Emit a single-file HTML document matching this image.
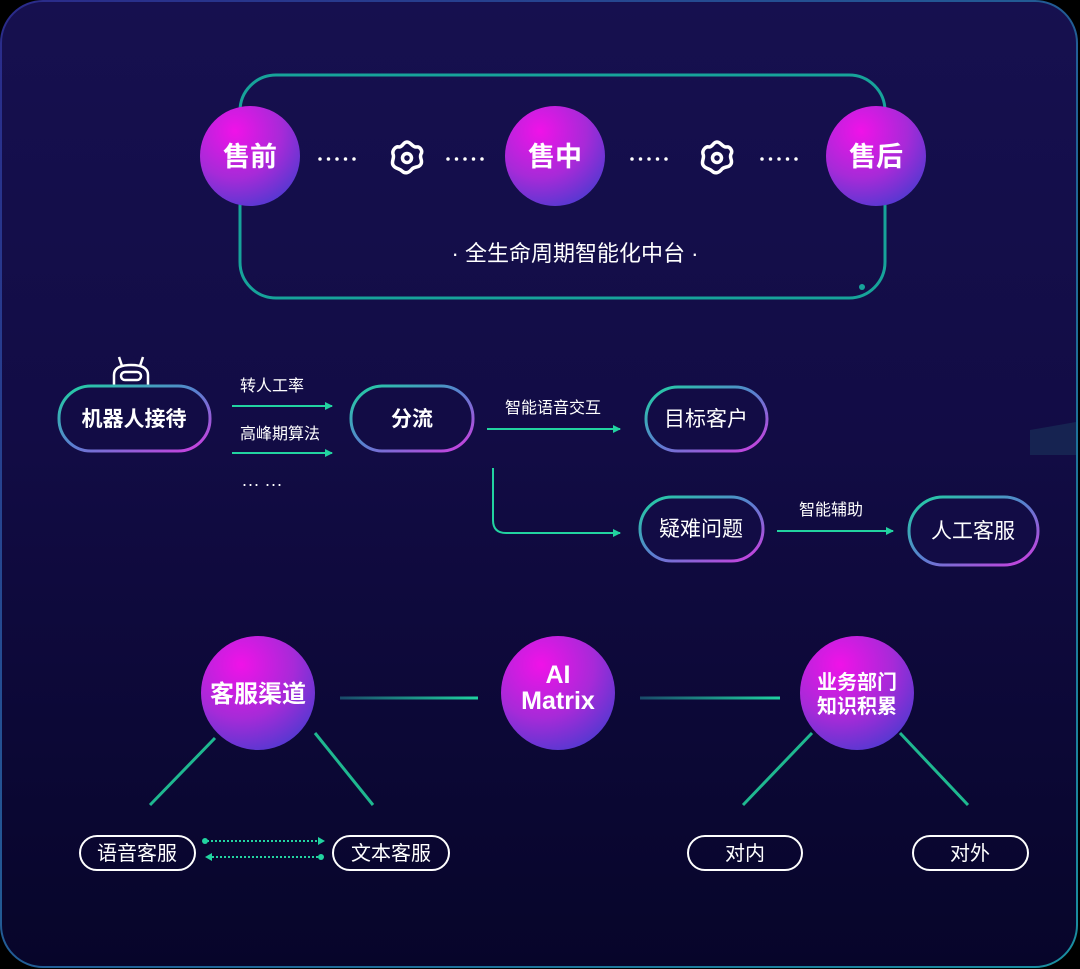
<!DOCTYPE html>
<html><head><meta charset="utf-8"><style>
html,body{margin:0;padding:0;background:#000;}
svg{display:block;}
text{font-family:"Liberation Sans","Noto Sans CJK SC",sans-serif;fill:#fff;}
</style></head><body>
<svg width="1080" height="969" viewBox="0 0 1080 969" xmlns="http://www.w3.org/2000/svg">
<defs>
<linearGradient id="bg" x1="0" y1="0" x2="0" y2="1">
<stop offset="0" stop-color="#16104f"/><stop offset="0.45" stop-color="#120c45"/><stop offset="1" stop-color="#07052a"/>
</linearGradient>
<linearGradient id="fr" x1="0" y1="0" x2="1" y2="1">
<stop offset="0" stop-color="#2a2a8a"/><stop offset="1" stop-color="#1a8fa0"/>
</linearGradient>
<radialGradient id="ball" cx="0.35" cy="0.25" r="0.85">
<stop offset="0" stop-color="#f012e8"/><stop offset="0.55" stop-color="#a72ad8"/><stop offset="1" stop-color="#4a3ad0"/>
</radialGradient>
<linearGradient id="pill" x1="0" y1="0" x2="1" y2="1">
<stop offset="0" stop-color="#1fd3a0"/><stop offset="0.5" stop-color="#5a7fd0"/><stop offset="1" stop-color="#d33ae0"/>
</linearGradient>
<linearGradient id="ln1" gradientUnits="userSpaceOnUse" x1="340" y1="0" x2="478" y2="0">
<stop offset="0" stop-color="#1a4a6a"/><stop offset="1" stop-color="#1fd3a0"/>
</linearGradient>
<linearGradient id="ln2" gradientUnits="userSpaceOnUse" x1="640" y1="0" x2="780" y2="0">
<stop offset="0" stop-color="#1a4a6a"/><stop offset="1" stop-color="#1fd3a0"/>
</linearGradient>
<marker id="ar" markerWidth="8" markerHeight="8" refX="7" refY="4" orient="auto" markerUnits="userSpaceOnUse"><path d="M0,0 L8,4 L0,8 z" fill="#22d3a0"/></marker>
<g id="gear"><path d="M0,-16 C4,-16 5,-11 9,-11 C13,-12 16,-7 14,-4 C12,0 16,2 14,6 C12,10 8,8 5,11 C2,15 -2,16 -5,13 C-8,10 -12,11 -14,7 C-16,3 -12,0 -14,-4 C-15,-8 -11,-12 -8,-11 C-4,-11 -4,-16 0,-16 z" fill="none" stroke="#fff" stroke-width="3.5"/><circle r="4.5" fill="none" stroke="#fff" stroke-width="3.5"/></g>
</defs>
<rect x="1" y="1" width="1076" height="966" rx="42" fill="url(#bg)" stroke="url(#fr)" stroke-width="2"/>
<polygon points="1030,430 1076,422 1076,455 1030,455" fill="#1a3a5e" opacity="0.5"/>

<!-- lifecycle box -->
<rect x="240" y="75" width="645" height="223" rx="36" fill="none" stroke="#17a39a" stroke-width="3"/>
<circle cx="862" cy="287" r="3" fill="#17a39a"/>
<g font-size="27" font-weight="bold" text-anchor="middle">
<circle cx="250" cy="156" r="50" fill="url(#ball)"/><text x="250" y="166">售前</text>
<circle cx="555" cy="156" r="50" fill="url(#ball)"/><text x="555" y="166">售中</text>
<circle cx="876" cy="156" r="50" fill="url(#ball)"/><text x="876" y="166">售后</text>
</g>
<g stroke="#fff" stroke-width="3.5" stroke-dasharray="0,8.5" stroke-linecap="round">
<line x1="320" y1="159" x2="362" y2="159"/><line x1="448" y1="159" x2="490" y2="159"/>
<line x1="632" y1="159" x2="674" y2="159"/><line x1="762" y1="159" x2="803" y2="159"/>
</g>
<use href="#gear" x="407" y="158"/><use href="#gear" x="717" y="158"/>
<text x="575" y="261" font-size="22" text-anchor="middle">· 全生命周期智能化中台 ·</text>

<!-- middle flow -->
<g fill="none" stroke="#fff" stroke-width="2.5">
<line x1="119" y1="357" x2="122" y2="366"/><line x1="143" y1="357" x2="140" y2="366"/>
<path d="M114,386 L114,375 Q114,365 131,365 Q148,365 148,375 L148,386"/><rect x="121" y="372" width="20" height="8" rx="4"/>
</g>
<g fill="#120c45" stroke="url(#pill)" stroke-width="3">
<rect x="59" y="386" width="151" height="65" rx="32"/>
<rect x="351" y="386" width="122" height="65" rx="32"/>
<rect x="646" y="387" width="121" height="64" rx="32"/>
<rect x="640" y="497" width="123" height="64" rx="32"/>
<rect x="909" y="497" width="129" height="68" rx="34"/>
</g>
<g font-size="21" text-anchor="middle">
<text x="134" y="426" font-weight="bold">机器人接待</text>
<text x="412" y="426" font-weight="bold">分流</text>
<text x="706" y="426">目标客户</text>
<text x="701" y="536">疑难问题</text>
<text x="973" y="538">人工客服</text>
</g>
<g stroke="#22d3a0" stroke-width="2" fill="none" marker-end="url(#ar)">
<line x1="232" y1="406" x2="332" y2="406"/>
<line x1="232" y1="453" x2="332" y2="453"/>
<line x1="487" y1="429" x2="620" y2="429"/>
<path d="M493,468 L493,520 Q493,533 506,533 L620,533"/>
<line x1="777" y1="531" x2="893" y2="531"/>
</g>
<g font-size="16" text-anchor="middle">
<text x="272" y="391">转人工率</text>
<text x="280" y="439">高峰期算法</text>
<text x="262" y="490" font-size="18">··· ···</text>
<text x="553" y="413">智能语音交互</text>
<text x="831" y="515">智能辅助</text>
</g>

<!-- bottom -->
<line x1="340" y1="698" x2="478" y2="698" stroke="url(#ln1)" stroke-width="3"/>
<line x1="640" y1="698" x2="780" y2="698" stroke="url(#ln2)" stroke-width="3"/>
<g stroke="#1fb890" stroke-width="3">
<line x1="215" y1="738" x2="150" y2="805"/><line x1="315" y1="733" x2="373" y2="805"/>
<line x1="812" y1="733" x2="743" y2="805"/><line x1="900" y1="733" x2="968" y2="805"/>
</g>
<circle cx="258" cy="693" r="57" fill="url(#ball)"/>
<circle cx="558" cy="693" r="57" fill="url(#ball)"/>
<circle cx="857" cy="693" r="57" fill="url(#ball)"/>
<g font-weight="bold" text-anchor="middle">
<text x="258" y="702" font-size="24">客服渠道</text>
<text x="558" y="683" font-size="25">AI</text>
<text x="558" y="709" font-size="25">Matrix</text>
<text x="857" y="689" font-size="20">业务部门</text>
<text x="857" y="713" font-size="20">知识积累</text>
</g>
<g fill="none" stroke="#fff" stroke-width="2">
<rect x="80" y="836" width="115" height="34" rx="17"/>
<rect x="333" y="836" width="116" height="34" rx="17"/>
<rect x="688" y="836" width="114" height="34" rx="17"/>
<rect x="913" y="836" width="115" height="34" rx="17"/>
</g>
<g font-size="20" text-anchor="middle">
<text x="137" y="860">语音客服</text><text x="391" y="860">文本客服</text>
<text x="745" y="860">对内</text><text x="970" y="860">对外</text>
</g>
<g stroke="#22d3a0" stroke-width="2" stroke-dasharray="2,2" fill="none">
<line x1="207" y1="841" x2="318" y2="841"/><line x1="212" y1="857" x2="320" y2="857"/>
</g>
<g fill="#22d3a0">
<circle cx="205" cy="841" r="3"/><path d="M318,837 L325,841 L318,845z"/>
<circle cx="321" cy="857" r="3"/><path d="M212,853 L205,857 L212,861z"/>
</g>
</svg>
</body></html>
